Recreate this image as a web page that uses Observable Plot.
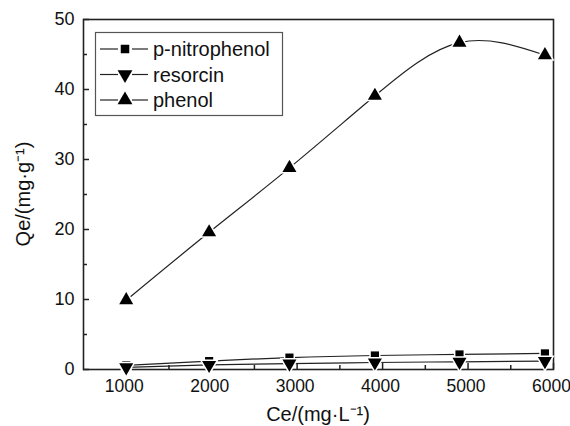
<!DOCTYPE html>
<html>
<head>
<meta charset="utf-8">
<script src="https://cdn.jsdelivr.net/npm/d3@7"></script>
<script src="https://cdn.jsdelivr.net/npm/@observablehq/plot@0.6"></script>
<style>
  html, body { margin: 0; padding: 0; background: #fff; }
  #chart svg { display: block; }
</style>
</head>
<body>
<div id="chart"></div>
<script>
// ---- data ----
const seriesNames = ["p-nitrophenol", "resorcin", "phenol"];
const ceValues = [1000, 1970, 2910, 3910, 4900, 5900];
const pNitrophenol = [0.6, 1.2, 1.7, 2.0, 2.15, 2.3];
const resorcin = [0.3, 0.65, 0.85, 1.0, 1.1, 1.2];
const phenol = [9.9, 19.6, 28.8, 39.1, 46.7, 44.9];
const xTicks = [1000, 2000, 3000, 4000, 5000, 6000];
const xMinorTicks = [1500, 2500, 3500, 4500, 5500];
const yTicks = [0, 10, 20, 30, 40, 50];
const yMinorTicks = [5, 15, 25, 35, 45];
const xTitle = "Ce/(mg·L⁻¹)";
const yTitle = "Qe/(mg·g⁻¹)";

const symbols = ["square", "triangle", "triangle"];
const rotations = [0, 180, 0];
const valuesBySeries = [pNitrophenol, resorcin, phenol];

const data = [];
seriesNames.forEach((name, i) => {
  ceValues.forEach((x, j) => data.push({series: name, idx: i, x, y: valuesBySeries[i][j]}));
});

const W = 570, H = 426;
const mL = 83, mR = 17, mT = 19, mB = 57;
const plotW = W - mL - mR, plotH = H - mT - mB;
const font = "Arial, 'Liberation Sans', sans-serif";

const marks = [
  // inward ticks
  Plot.tickX(xTicks, {x: d => d, insetTop: plotH - 6, stroke: "#222", strokeWidth: 1.5}),
  Plot.tickX(xMinorTicks, {x: d => d, insetTop: plotH - 4, stroke: "#222", strokeWidth: 1.5}),
  Plot.tickY(yTicks, {y: d => d, insetRight: plotW - 6, stroke: "#222", strokeWidth: 1.5}),
  Plot.tickY(yMinorTicks, {y: d => d, insetRight: plotW - 4, stroke: "#222", strokeWidth: 1.5}),
  Plot.axisX(xTicks, {tickSize: 0, tickPadding: 10, dx: -2, fontSize: 17.5, fill: "#111", label: null, tickFormat: d => String(d)}),
  Plot.axisY(yTicks, {tickSize: 0, tickPadding: 9, fontSize: 18, fill: "#111", label: null, tickFormat: d => String(d)}),
  Plot.frame({stroke: "#222", strokeWidth: 1.6}),
];
seriesNames.forEach((name, i) => {
  const d = data.filter(r => r.idx === i);
  marks.push(Plot.line(d, {x: "x", y: "y", curve: "natural", stroke: "#222", strokeWidth: 1.2}));
});
seriesNames.forEach((name, i) => {
  const d = data.filter(r => r.idx === i);
  marks.push(Plot.dot(d, {x: "x", y: "y", symbol: () => symbols[i], rotate: rotations[i],
    r: symbols[i] === "square" ? 4.6 : 5.2, fill: "#000", stroke: "#fff", strokeWidth: 3, paintOrder: "stroke"}));
});

const chart = Plot.plot({
  width: W, height: H,
  marginLeft: mL, marginRight: mR, marginTop: mT, marginBottom: mB,
  style: {fontFamily: font, background: "#fff", overflow: "visible"},
  x: {domain: [500, 6000], axis: null},
  y: {domain: [0, 50], axis: null},
  symbol: {type: "identity"},
  marks
});

const svg = d3.select(chart);
// axis titles
svg.append("text").attr("x", mL + plotW / 2).attr("y", 421).attr("text-anchor", "middle")
  .attr("font-size", 20).attr("font-family", font).attr("fill", "#111").text(xTitle);
svg.append("text").attr("transform", `translate(30,${mT + plotH / 2}) rotate(-90)`).attr("text-anchor", "middle")
  .attr("font-size", 20).attr("font-family", font).attr("fill", "#111").text(yTitle);

// legend inside plot
const lg = svg.append("g");
lg.append("rect").attr("x", 95.5).attr("y", 32.5).attr("width", 187).attr("height", 83)
  .attr("fill", "#fff").attr("stroke", "#555").attr("stroke-width", 1.2);
seriesNames.forEach((name, i) => {
  const cy = 49 + i * 25.5;
  lg.append("line").attr("x1", 100).attr("x2", 118).attr("y1", cy).attr("y2", cy).attr("stroke", "#222").attr("stroke-width", 1.2);
  lg.append("line").attr("x1", 132).attr("x2", 148).attr("y1", cy).attr("y2", cy).attr("stroke", "#222").attr("stroke-width", 1.2);
  const sym = symbols[i] === "square" ? d3.symbolSquare : d3.symbolTriangle;
  const r = symbols[i] === "square" ? 4.8 : 5.5;
  lg.append("path").attr("d", d3.symbol(sym, Math.PI * r * r)())
    .attr("transform", `translate(125,${cy}) rotate(${rotations[i]})`).attr("fill", "#000");
  lg.append("text").attr("x", 153).attr("y", cy).attr("dy", "0.35em").attr("font-size", 20)
    .attr("text-anchor", "start").attr("font-family", font).attr("fill", "#111").text(name);
});

document.getElementById("chart").appendChild(chart);
</script>
</body>
</html>
